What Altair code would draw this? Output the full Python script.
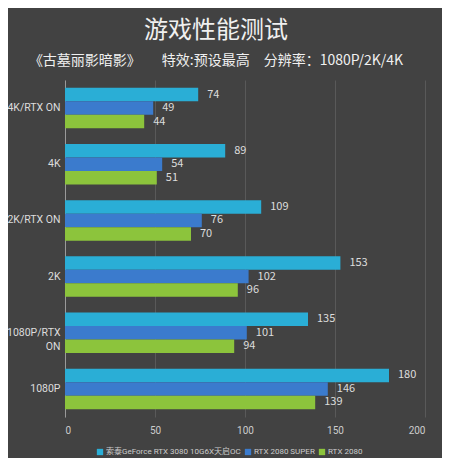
import altair as alt
import pandas as pd

categories = ["4K/RTX ON", "4K", "2K/RTX ON", "2K", "1080P/RTX ON", "1080P"]
series = ["索泰GeForce RTX 3080 10G6X天启OC", "RTX 2080 SUPER", "RTX 2080"]
colors = ["#2aaed6", "#3b7bcd", "#8cc43c"]
v_3080 = [74, 89, 109, 153, 135, 180]
v_2080s = [49, 54, 76, 102, 101, 146]
v_2080 = [44, 51, 70, 96, 94, 139]

rows = []
for i, c in enumerate(categories):
    for s, vals in zip(series, [v_3080, v_2080s, v_2080]):
        rows.append({"cat": c, "series": s, "value": vals[i]})
df = pd.DataFrame(rows)

FONT = "Noto Sans CJK SC"
LFONT = "Roboto, 'Noto Sans CJK SC'"

y = alt.Y("cat:N", sort=categories, title=None,
          scale=alt.Scale(paddingInner=0.28, paddingOuter=0.14),
          axis=alt.Axis(domain=True, domainColor="#9a9a9a", ticks=False,
                        labelColor="#dddddd", labelFontSize=10.5, labelPadding=5,
                        labelFont=LFONT, grid=False,
                        labelExpr="datum.value == '1080P/RTX ON' ? ['1080P/RTX', 'ON'] : datum.value",
                        labelLineHeight=14))
x = alt.X("value:Q", title=None,
          scale=alt.Scale(domain=[0, 200]),
          axis=alt.Axis(values=[0, 50, 100, 150, 200], domain=False, ticks=False,
                        labelColor="#cccccc", labelFontSize=10, labelPadding=8,
                        labelFont=LFONT, grid=True, gridColor="#595959", gridWidth=1))
color = alt.Color("series:N", sort=series,
                  scale=alt.Scale(domain=series, range=colors),
                  legend=alt.Legend(title=None, orient="none", direction="horizontal",
                                    legendX=31, legendY=368,
                                    symbolType="square", symbolSize=40,
                                    symbolStrokeWidth=0,
                                    labelColor="#cccccc", labelFontSize=8,
                                    labelFont=LFONT, columnPadding=3,
                                    labelOffset=2))
yoff = alt.YOffset("series:N", sort=series)

bars = alt.Chart(df).mark_bar(height={"band": 1}).encode(y=y, x=x, color=color, yOffset=yoff)
labels = alt.Chart(df).mark_text(align="left", dx=9, color="#dddddd", fontSize=11, font=FONT).encode(
    y=y, x=x, yOffset=yoff, text="value:Q")

chart = (bars + labels).properties(
    width=360, height=337,
    background="#424242",
    padding={"left": 57, "top": 72, "right": 17, "bottom": 41},
    autosize=alt.AutoSizeParams(type="none"),
    title=alt.TitleParams(
        text="游戏性能测试",
        subtitle="《古墓丽影暗影》\u3000\u3000特效:预设最高\u3000分辨率：1080P/2K/4K",
        anchor="middle", dx=-29, offset=12,
        font=FONT, fontSize=24, fontWeight="normal", color="#f0f0f0",
        subtitleFont=FONT, subtitleFontSize=14, subtitleColor="#f0f0f0",
        subtitlePadding=11),
).configure_view(stroke=None)

chart.save("out.html", embed_options={"renderer": "svg", "actions": False})
